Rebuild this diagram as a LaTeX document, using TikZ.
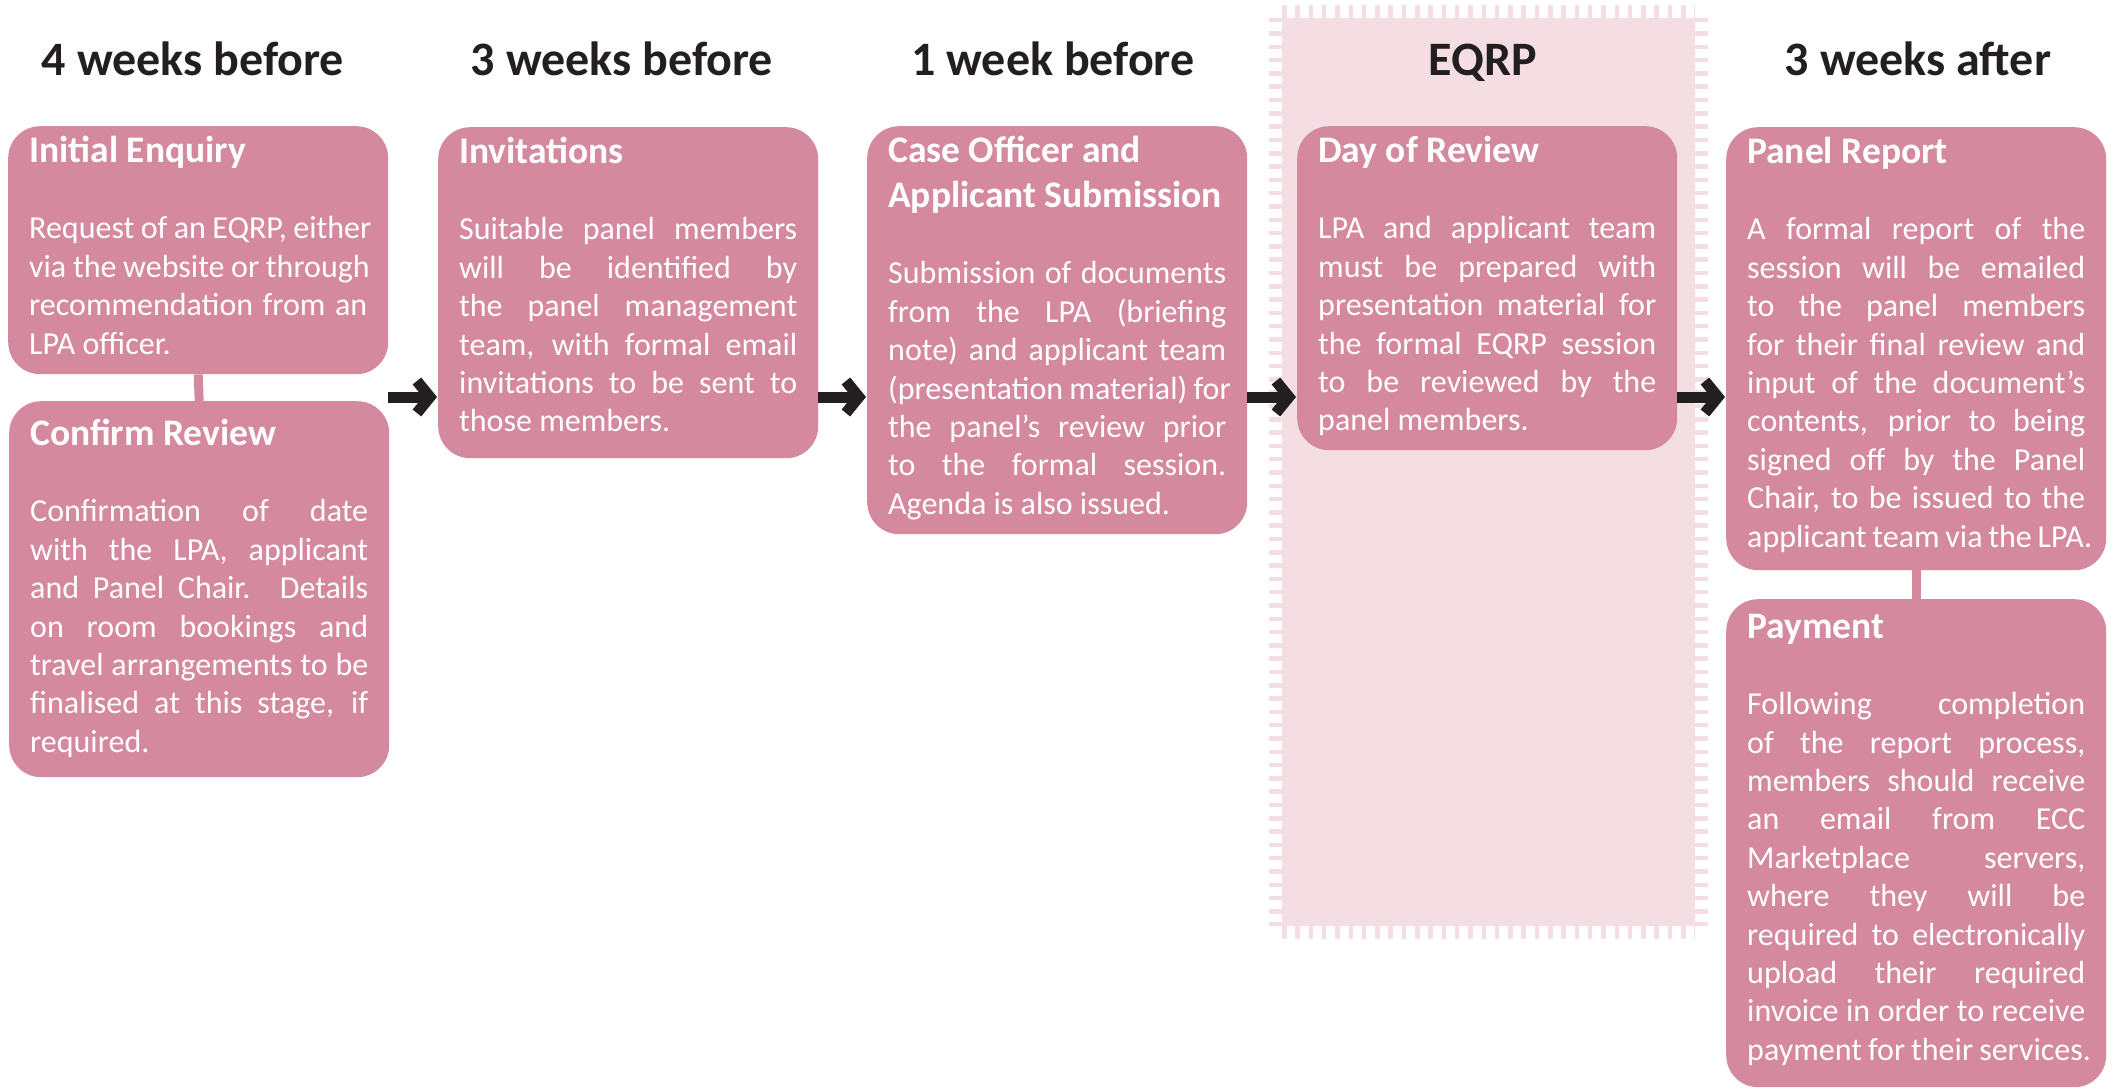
\documentclass[tikz,border=0pt]{standalone}
\usepackage{fontspec}
\setmainfont{Carlito}
\usetikzlibrary{arrows.meta}

\definecolor{cardpink}{RGB}{212,137,158}
\definecolor{bandpink}{RGB}{244,222,227}
\definecolor{inkdark}{RGB}{35,31,32}

% title, blank line, justified body; optional drop from the top
\newcommand{\cardtext}[4][0]{%
  \parbox[t][#2pt][t]{338pt}{\tolerance=10000\hbadness=10000\hfuzz=20pt
    \rightskip=0pt minus 12pt\vspace*{#1pt}%
    \fontsize{37.5}{45}\selectfont\bfseries\rule{0pt}{25pt}#3\par
    \vspace{38pt}%
    \fontsize{32}{38.4}\selectfont\mdseries #4\par}}

\begin{document}
\begin{tikzpicture}[x=1pt,y=-1pt,
  card/.style={rectangle,rounded corners=32pt,fill=cardpink,text=white,
    inner xsep=21pt,inner ysep=10pt,anchor=north west},
  stage/.style={anchor=base,text=inkdark,font=\fontsize{48}{56}\selectfont\bfseries},
  flow/.style={draw=inkdark,line width=11pt,shorten >=1pt,
    -{Straight Barb[length=13pt,width=32pt]}},
  link/.style={draw=cardpink,line width=9pt},
  teeth/.style={draw=bandpink,line width=13pt,dash pattern=on 4.5pt off 8.8pt}]
  \useasboundingbox (0,0) rectangle (2114,1089);

  % EQRP band
  \fill[bandpink] (1282,18) rectangle (1695,926);
  \draw[teeth] (1282,11.5) -- (1695,11.5);
  \draw[teeth] (1282,932.5) -- (1695,932.5);
  \draw[teeth] (1275.5,18) -- (1275.5,926);
  \draw[teeth] (1701.5,18) -- (1701.5,926);

  % stage headings
  \node[stage] (h1) at (193,76) {4 weeks before};
  \node[stage] (h2) at (622,76) {3 weeks before};
  \node[stage] (h3) at (1053,76) {1 week before};
  \node[stage] (h4) at (1483,76) {EQRP};
  \node[stage] (h5) at (1918,76) {3 weeks after};

  \node[card] (enq) at (8,126) {\cardtext{228}{Initial Enquiry}{%
    Request of an EQRP, either\linebreak via the website or through\linebreak
    recommendation from an\linebreak LPA officer.}};
  \node[card] (conf) at (9,401) {\cardtext[8]{356}{Confirm Review}{%
    Confirmation of date\linebreak with the LPA, applicant\linebreak
    and Panel Chair. Details\linebreak on room bookings and\linebreak
    travel arrangements to be\linebreak finalised at this stage, if\linebreak
    required.}};
  \node[card] (inv) at (438,127) {\cardtext{311}{Invitations}{%
    Suitable panel members\linebreak will be identified by\linebreak
    the panel management\linebreak team, with formal email\linebreak
    invitations to be sent to\linebreak those members.}};
  \node[card] (sub) at (867,126) {\cardtext{388}{Case Officer and\\Applicant Submission}{%
    Submission of documents\linebreak from the LPA (briefing\linebreak
    note) and applicant team\linebreak (presentation material) for\linebreak
    the panel’s review prior\linebreak to the formal session.\linebreak
    Agenda is also issued.}};
  \node[card] (day) at (1297,126) {\cardtext{304}{Day of Review}{%
    LPA and applicant team\linebreak must be prepared with\linebreak
    presentation material for\linebreak the formal EQRP session\linebreak
    to be reviewed by the\linebreak panel members.}};
  \node[card] (rep) at (1726,127) {\cardtext{423}{Panel Report}{%
    A formal report of the\linebreak session will be emailed\linebreak
    to the panel members\linebreak for their final review and\linebreak
    input of the document’s\linebreak contents, prior to being\linebreak
    signed off by the Panel\linebreak Chair, to be issued to the\linebreak
    applicant team via the LPA.}};
  \node[card] (pay) at (1726,599) {\cardtext[4]{468}{Payment}{%
    Following completion\linebreak of the report process,\linebreak
    members should receive\linebreak an email from ECC\linebreak
    Marketplace servers,\linebreak where they will be\linebreak
    required to electronically\linebreak upload their required\linebreak
    invoice in order to receive\linebreak payment for their services.}};

  \coordinate (lane) at (0,397);
  \draw[link] (enq.south) -- (conf.north);
  \draw[link] (rep.south) -- (pay.north);
  \draw[flow] (enq.east |- lane) -- (inv.west |- lane);
  \draw[flow] (inv.east |- lane) -- (sub.west |- lane);
  \draw[flow] (sub.east |- lane) -- (day.west |- lane);
  \draw[flow] (day.east |- lane) -- (rep.west |- lane);
\end{tikzpicture}
\end{document}
